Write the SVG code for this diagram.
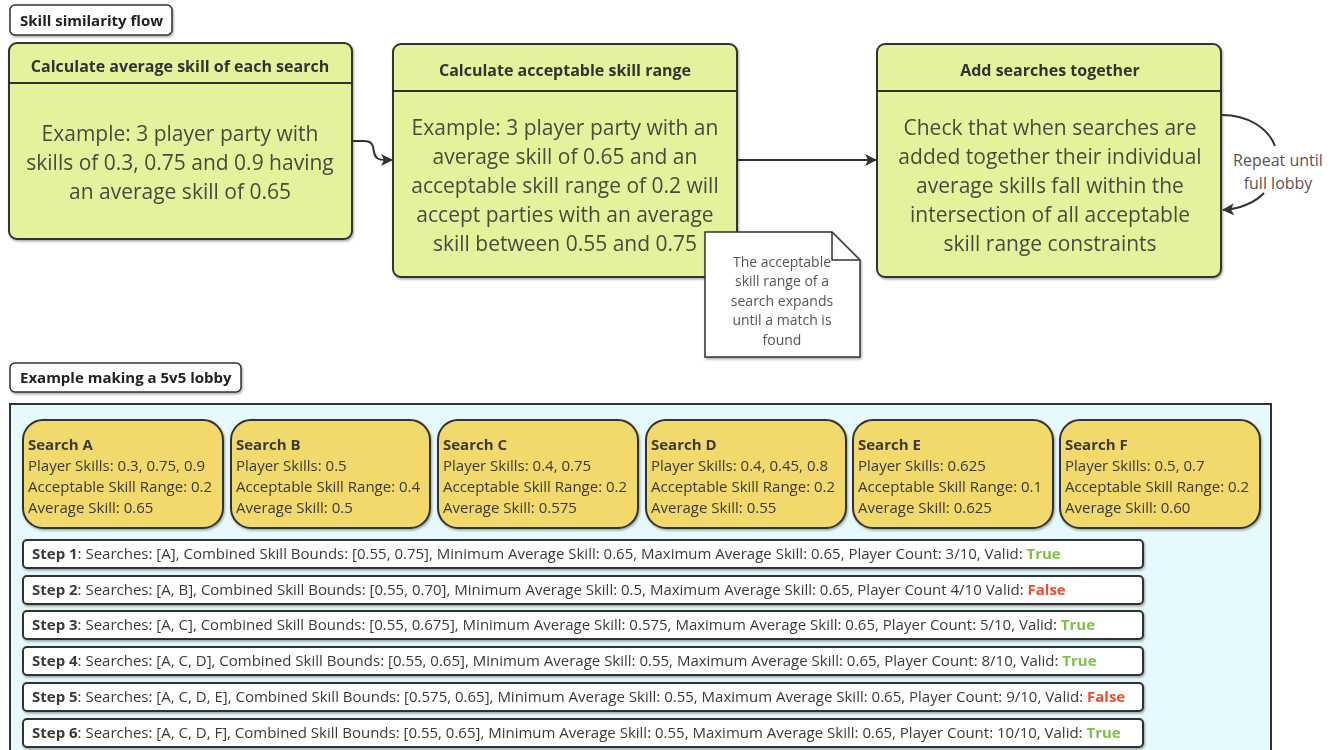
<svg xmlns="http://www.w3.org/2000/svg" width="1336" height="750" viewBox="0 0 1336 750">
<defs>
<filter id="sh" x="-5%" y="-5%" width="110%" height="120%"><feDropShadow dx="1" dy="1.5" stdDeviation="0.8" flood-color="#000" flood-opacity="0.35"/></filter>
<marker id="arr" viewBox="0 0 12 12" refX="11" refY="6" markerWidth="12" markerHeight="12" markerUnits="userSpaceOnUse" orient="auto">
<path d="M0,0 L12,6 L0,12 L3,6 Z" fill="#333"/>
</marker>
<style>
text{font-family:"Open Sans","Noto Sans","Liberation Sans",sans-serif;}
.lbl{font-size:15px;font-weight:bold;fill:#222;}
.hdr{font-size:16px;font-weight:bold;fill:#333;text-anchor:middle;}
.body{font-size:21px;fill:#4a4a40;text-anchor:middle;}
.green{fill:#e6f29b;stroke:#333;stroke-width:2;}
.srch{fill:#f2d96c;stroke:#333;stroke-width:2;}
.st{font-size:15px;fill:#3a3a3a;}
.step{fill:#fff;stroke:#333;stroke-width:2;}
.b{font-weight:bold;}
.t{fill:#7cc242;font-weight:bold;}
.f{fill:#f24b2f;font-weight:bold;}
.note{font-size:14px;fill:#555;text-anchor:middle;}
.conn{fill:none;stroke:#333;stroke-width:2;}
</style>
</defs>

<g id="title1" filter="url(#sh)">
<rect x="10" y="5" width="162" height="30" rx="5" fill="#fff" stroke="#333" stroke-width="1.5"/>
<text x="20" y="26" class="lbl">Skill similarity flow</text>
</g>

<g id="node-avg" filter="url(#sh)">
<rect x="9" y="43" width="343" height="196" rx="8" class="green"/>
<line x1="9" y1="83" x2="352" y2="83" stroke="#333" stroke-width="2"/>
<text x="180" y="72" class="hdr">Calculate average skill of each search</text>
<text x="180" y="141" class="body">Example: 3 player party with</text>
<text x="180" y="170" class="body">skills of 0.3, 0.75 and 0.9 having</text>
<text x="180" y="199" class="body">an average skill of 0.65</text>
</g>

<g id="node-range" filter="url(#sh)">
<rect x="393" y="44" width="344" height="233" rx="8" class="green"/>
<line x1="393" y1="91" x2="737" y2="91" stroke="#333" stroke-width="2"/>
<text x="565" y="76" class="hdr">Calculate acceptable skill range</text>
<text x="565" y="135" class="body">Example: 3 player party with an</text>
<text x="565" y="164" class="body">average skill of 0.65 and an</text>
<text x="565" y="193" class="body">acceptable skill range of 0.2 will</text>
<text x="565" y="222" class="body">accept parties with an average</text>
<text x="565" y="251" class="body">skill between 0.55 and 0.75</text>
</g>

<g id="node-add" filter="url(#sh)">
<rect x="877" y="44" width="344" height="233" rx="8" class="green"/>
<line x1="877" y1="91" x2="1221" y2="91" stroke="#333" stroke-width="2"/>
<text x="1050" y="76" class="hdr">Add searches together</text>
<text x="1050" y="135" class="body">Check that when searches are</text>
<text x="1050" y="164" class="body">added together their individual</text>
<text x="1050" y="193" class="body">average skills fall within the</text>
<text x="1050" y="222" class="body">intersection of all acceptable</text>
<text x="1050" y="251" class="body">skill range constraints</text>
</g>

<g id="note" filter="url(#sh)">
<path d="M705,232 H832 L860,260 V357 H705 Z" fill="#fff" stroke="#333" stroke-width="1.5"/>
<path d="M832,232 V260 H860" fill="none" stroke="#333" stroke-width="1.5"/>
<text x="782" y="267" class="note">The acceptable</text>
<text x="782" y="286" class="note">skill range of a</text>
<text x="782" y="306" class="note">search expands</text>
<text x="782" y="325" class="note">until a match is</text>
<text x="782" y="345" class="note">found</text>
</g>

<g id="connectors">
<path d="M352,141 H364 C374,141 373,148 374,152 C375,158 378,160 386,160 H392" class="conn" marker-end="url(#arr)"/>
<path d="M737,160 H876" class="conn" marker-end="url(#arr)"/>
<path d="M1222,115 C1248,115 1268,128 1275,146" class="conn"/>
<path d="M1264,193 C1256,202 1240,209 1223,210" class="conn" marker-end="url(#arr)"/>
<text x="1278" y="166" font-size="16" fill="#555" text-anchor="middle">Repeat until</text>
<text x="1278" y="189" font-size="16" fill="#555" text-anchor="middle">full lobby</text>
</g>

<g id="title2" filter="url(#sh)">
<rect x="10" y="363" width="231" height="29" rx="5" fill="#fff" stroke="#333" stroke-width="1.5"/>
<text x="20" y="383" class="lbl">Example making a 5v5 lobby</text>
</g>

<g id="container">
<rect x="10" y="404" width="1261" height="360" fill="#e6f9fd" stroke="#333" stroke-width="2"/>
</g>

<g id="search-a" filter="url(#sh)">
<rect x="23" y="420" width="200" height="108" rx="20" class="srch"/>
<text x="28" y="450" class="st b">Search A</text>
<text x="28" y="471" class="st">Player Skills: 0.3, 0.75, 0.9</text>
<text x="28" y="492" class="st">Acceptable Skill Range: 0.2</text>
<text x="28" y="513" class="st">Average Skill: 0.65</text>
</g>
<g id="search-b" filter="url(#sh)">
<rect x="231" y="420" width="199" height="108" rx="20" class="srch"/>
<text x="236" y="450" class="st b">Search B</text>
<text x="236" y="471" class="st">Player Skills: 0.5</text>
<text x="236" y="492" class="st">Acceptable Skill Range: 0.4</text>
<text x="236" y="513" class="st">Average Skill: 0.5</text>
</g>
<g id="search-c" filter="url(#sh)">
<rect x="438" y="420" width="200" height="108" rx="20" class="srch"/>
<text x="443" y="450" class="st b">Search C</text>
<text x="443" y="471" class="st">Player Skills: 0.4, 0.75</text>
<text x="443" y="492" class="st">Acceptable Skill Range: 0.2</text>
<text x="443" y="513" class="st">Average Skill: 0.575</text>
</g>
<g id="search-d" filter="url(#sh)">
<rect x="646" y="420" width="200" height="108" rx="20" class="srch"/>
<text x="651" y="450" class="st b">Search D</text>
<text x="651" y="471" class="st">Player Skills: 0.4, 0.45, 0.8</text>
<text x="651" y="492" class="st">Acceptable Skill Range: 0.2</text>
<text x="651" y="513" class="st">Average Skill: 0.55</text>
</g>
<g id="search-e" filter="url(#sh)">
<rect x="853" y="420" width="200" height="108" rx="20" class="srch"/>
<text x="858" y="450" class="st b">Search E</text>
<text x="858" y="471" class="st">Player Skills: 0.625</text>
<text x="858" y="492" class="st">Acceptable Skill Range: 0.1</text>
<text x="858" y="513" class="st">Average Skill: 0.625</text>
</g>
<g id="search-f" filter="url(#sh)">
<rect x="1060" y="420" width="200" height="108" rx="20" class="srch"/>
<text x="1065" y="450" class="st b">Search F</text>
<text x="1065" y="471" class="st">Player Skills: 0.5, 0.7</text>
<text x="1065" y="492" class="st">Acceptable Skill Range: 0.2</text>
<text x="1065" y="513" class="st">Average Skill: 0.60</text>
</g>

<g id="step-1" filter="url(#sh)">
<rect x="23" y="540" width="1120" height="28" rx="4" class="step"/>
<text x="32" y="559" class="st"><tspan class="b">Step 1</tspan>: Searches: [A], Combined Skill Bounds: [0.55, 0.75], Minimum Average Skill: 0.65, Maximum Average Skill: 0.65, Player Count: 3/10, Valid: <tspan class="t">True</tspan></text>
</g>
<g id="step-2" filter="url(#sh)">
<rect x="23" y="576" width="1120" height="28" rx="4" class="step"/>
<text x="32" y="595" class="st"><tspan class="b">Step 2</tspan>: Searches: [A, B], Combined Skill Bounds: [0.55, 0.70], Minimum Average Skill: 0.5, Maximum Average Skill: 0.65, Player Count 4/10 Valid: <tspan class="f">False</tspan></text>
</g>
<g id="step-3" filter="url(#sh)">
<rect x="23" y="611" width="1120" height="28" rx="4" class="step"/>
<text x="32" y="630" class="st"><tspan class="b">Step 3</tspan>: Searches: [A, C], Combined Skill Bounds: [0.55, 0.675], Minimum Average Skill: 0.575, Maximum Average Skill: 0.65, Player Count: 5/10, Valid: <tspan class="t">True</tspan></text>
</g>
<g id="step-4" filter="url(#sh)">
<rect x="23" y="647" width="1120" height="28" rx="4" class="step"/>
<text x="32" y="666" class="st"><tspan class="b">Step 4</tspan>: Searches: [A, C, D], Combined Skill Bounds: [0.55, 0.65], Minimum Average Skill: 0.55, Maximum Average Skill: 0.65, Player Count: 8/10, Valid: <tspan class="t">True</tspan></text>
</g>
<g id="step-5" filter="url(#sh)">
<rect x="23" y="683" width="1120" height="28" rx="4" class="step"/>
<text x="32" y="702" class="st"><tspan class="b">Step 5</tspan>: Searches: [A, C, D, E], Combined Skill Bounds: [0.575, 0.65], Minimum Average Skill: 0.55, Maximum Average Skill: 0.65, Player Count: 9/10, Valid: <tspan class="f">False</tspan></text>
</g>
<g id="step-6" filter="url(#sh)">
<rect x="23" y="719" width="1120" height="28" rx="4" class="step"/>
<text x="32" y="738" class="st"><tspan class="b">Step 6</tspan>: Searches: [A, C, D, F], Combined Skill Bounds: [0.55, 0.65], Minimum Average Skill: 0.55, Maximum Average Skill: 0.65, Player Count: 10/10, Valid: <tspan class="t">True</tspan></text>
</g>
</svg>
